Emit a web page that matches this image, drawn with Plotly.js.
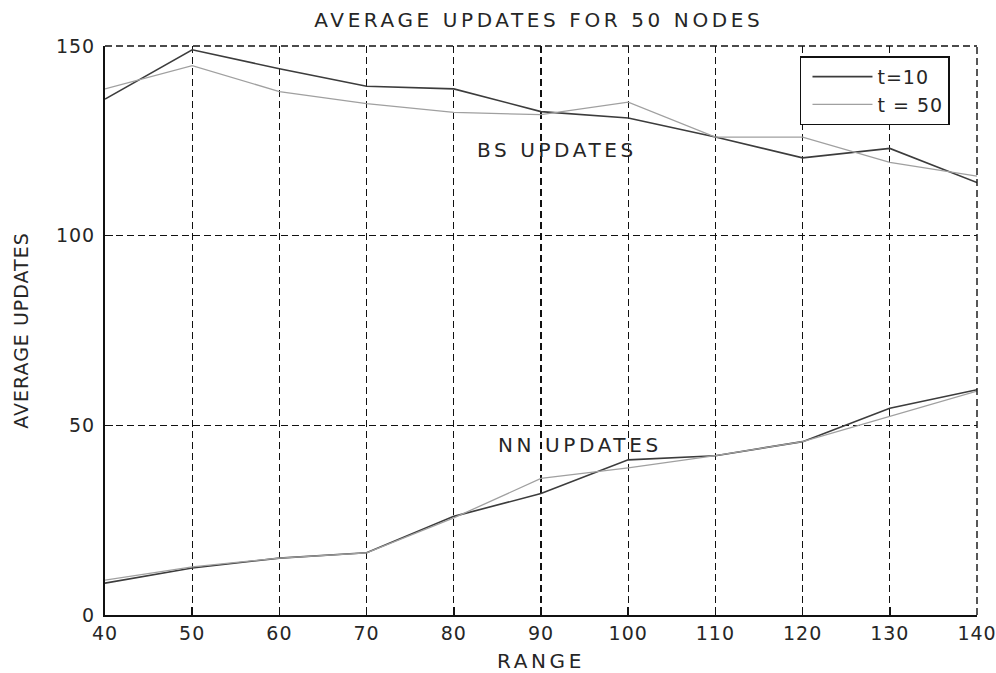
<!DOCTYPE html>
<html>
<head>
<meta charset="utf-8">
<script src="https://cdn.plot.ly/plotly-3.0.1.min.js"></script>
<style>
html,body{margin:0;padding:0;background:#fff;}
#chart{width:996px;height:673px;}
.gtitle, .annotation-text, .xtitle { letter-spacing: 3.6px; }
.ytitle { letter-spacing: 1px; }
.xtick text, .ytick text, .legendtext { letter-spacing: 1px; }
</style>
</head>
<body>
<div id="chart"></div>
<script>
const range = [40, 50, 60, 70, 80, 90, 100, 110, 120, 130, 140];
const bsT10 = [136, 149, 144, 139.4, 138.7, 132.7, 131, 126, 120.5, 123, 114];
const bsT50 = [138.7, 144.8, 138, 134.8, 132.5, 131.9, 135.2, 126, 126, 119.3, 115.7];
const nnT10 = [8.4, 12.4, 15, 16.4, 26, 32, 40.9, 42, 45.7, 54.5, 59.4];
const nnT50 = [9.2, 12.7, 15, 16.4, 25.6, 36, 38.8, 42, 45.7, 52.3, 59];
const xTicks = [40, 50, 60, 70, 80, 90, 100, 110, 120, 130, 140];
const yTicks = [0, 50, 100, 150];

const font = 'DejaVu Sans, Liberation Sans, sans-serif';
const txtCol = '#262626';
const darkCol = '#3c3c3c';
const lightCol = '#a0a0a0';
const gridDash = '7px,4px';

const traces = [
  {x: range, y: bsT10, mode: 'lines', name: 't=10', line: {color: darkCol, width: 1.6}, legendgroup: 'a'},
  {x: range, y: bsT50, mode: 'lines', name: 't = 50', line: {color: lightCol, width: 1.3}, legendgroup: 'b'},
  {x: range, y: nnT10, mode: 'lines', name: 't=10', line: {color: darkCol, width: 1.6}, showlegend: false, legendgroup: 'a'},
  {x: range, y: nnT50, mode: 'lines', name: 't = 50', line: {color: lightCol, width: 1.3}, showlegend: false, legendgroup: 'b'}
];

const axisCommon = {
  showgrid: true, gridcolor: '#111', griddash: gridDash, gridwidth: 1.4,
  showline: true, linecolor: '#111', linewidth: 2, mirror: false,
  ticks: 'inside', ticklen: 8, tickcolor: '#111', tickwidth: 1.5,
  zeroline: false, ticklabeloverflow: 'allow',
  tickfont: {family: font, size: 19, color: txtCol}
};

const layout = {
  width: 996, height: 673,
  paper_bgcolor: '#fff', plot_bgcolor: '#fff',
  margin: {l: 105, r: 19, t: 46, b: 58},
  showlegend: true,
  title: {text: 'AVERAGE UPDATES FOR 50 NODES', x: 0.541, xanchor: 'center', y: 0.97, yanchor: 'middle',
          font: {family: font, size: 20, color: txtCol}},
  xaxis: Object.assign({}, axisCommon, {
    range: [40, 140], tickvals: xTicks, ticktext: xTicks.map(String),
    title: {text: 'RANGE', font: {family: font, size: 20, color: txtCol}, standoff: 14}
  }),
  yaxis: Object.assign({}, axisCommon, {
    range: [0, 150], tickvals: yTicks, ticktext: yTicks.map(String),
    ticklabelstandoff: 4,
    title: {text: 'AVERAGE UPDATES', font: {family: font, size: 19, color: txtCol}, standoff: 22}
  }),
  legend: {
    x: 0.797, y: 0.982, xanchor: 'left', yanchor: 'top',
    bgcolor: '#fff', bordercolor: '#111', borderwidth: 1.5,
    font: {family: font, size: 19, color: txtCol},
    tracegroupgap: 0, itemwidth: 60, indentation: 6
  },
  shapes: [
    {type: 'line', xref: 'paper', yref: 'paper', x0: 0, x1: 1, y0: 1, y1: 1,
     line: {color: '#111', width: 1.4, dash: gridDash}},
    {type: 'line', xref: 'paper', yref: 'paper', x0: 1, x1: 1, y0: 0, y1: 1,
     line: {color: '#111', width: 1.4, dash: gridDash}}
  ],
  annotations: [
    {x: 91.8, y: 122.7, xref: 'x', yref: 'y', text: 'BS UPDATES', showarrow: false,
     font: {family: font, size: 20, color: txtCol}},
    {x: 94.5, y: 44.9, xref: 'x', yref: 'y', text: 'NN UPDATES', showarrow: false,
     font: {family: font, size: 20, color: txtCol}}
  ]
};

Plotly.newPlot('chart', traces, layout, {displayModeBar: false, staticPlot: true});
</script>
</body>
</html>
